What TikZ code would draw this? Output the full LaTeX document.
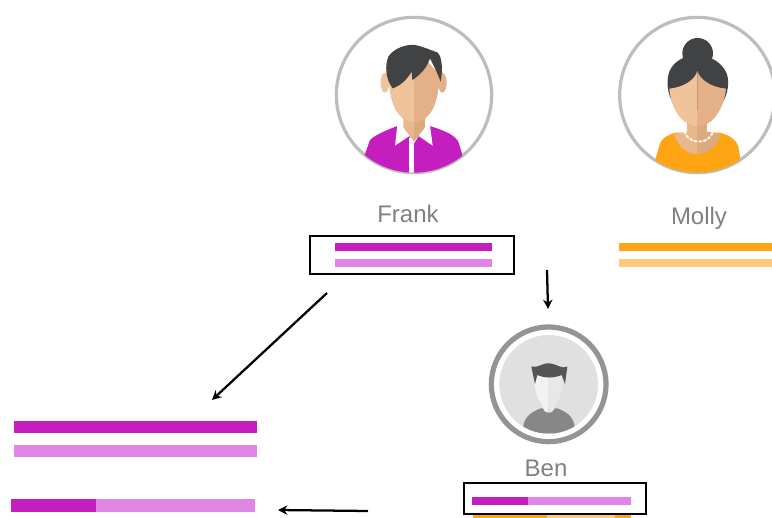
\documentclass[tikz,border=0pt]{standalone}
\usepackage{fontspec}
\setmainfont{Liberation Sans}
\usetikzlibrary{arrows.meta}
\definecolor{purp}{HTML}{C41FBE}
\definecolor{lpurp}{HTML}{E085E6}
\definecolor{orng}{HTML}{FFA514}
\definecolor{lorng}{HTML}{FFCB7A}
\definecolor{ring}{HTML}{BDBDBD}
\definecolor{hair}{HTML}{404244}
\definecolor{skinL}{HTML}{F0C39B}
\definecolor{skinR}{HTML}{E3B088}
\definecolor{neckL}{HTML}{E8B78E}
\definecolor{neckR}{HTML}{DDAA80}
\tikzset{
  namelabel/.style={text=black!50,font=\fontsize{18}{21}\selectfont,inner sep=0pt},
  framebox/.style={draw=black,line width=1.5pt,fill=none,inner sep=0pt,anchor=north west},
  flowarrow/.style={draw=black,line width=1.7pt,-{Stealth[length=7pt,width=7pt]}},
  zoomed/.style={x=0.25pt,y=-0.25pt}
}
\begin{document}
\begin{tikzpicture}[x=0.75pt,y=-0.75pt]
\useasboundingbox (0,0) rectangle (772,518);
\clip (0,0) rectangle (772,518);
\fill[white] (0,0) rectangle (772,518);

% Frank avatar
\begin{scope}[shift={(320,0)},zoomed]
  \draw[ring,line width=2.4pt] (282,285) circle (233);
  \begin{scope}
    \clip (282,285) circle (233);
    \fill[purp] (125,490) -- (150,420) .. controls (165,405) and (200,390) .. (232,378) -- (330,378) .. controls (365,390) and (400,400) .. (415,425) -- (435,490) -- (282,530) -- cycle;
    \fill[white] (268,415) rectangle (282,530);
  \end{scope}
  \fill[white] (232,376) -- (225,437) -- (268,408) -- (282,430) -- (296,408) -- (338,437) -- (330,376) -- cycle;
  \fill[skinL] (195,248) ellipse (13 and 30);
  \fill[skinR] (367,248) ellipse (13 and 30);
  \fill[neckL] (250,330) -- (282,330) -- (282,425) -- (250,382) -- cycle;
  \fill[neckR] (282,330) -- (315,330) -- (315,382) -- (282,425) -- cycle;
  \fill[skinL] (282,145) -- (282,367) .. controls (258,365) and (240,352) .. (226,328) .. controls (212,300) and (205,260) .. (207,220) -- cycle;
  \fill[skinR] (282,145) -- (282,367) .. controls (306,365) and (325,352) .. (338,328) .. controls (352,300) and (359,260) .. (357,220) -- cycle;
  \fill[hair] (218,265) .. controls (195,235) and (195,195) .. (205,170) .. controls (220,145) and (260,132) .. (285,135) .. controls (310,140) and (330,150) .. (352,157) .. controls (368,170) and (368,215) .. (362,245) .. controls (355,225) and (345,205) .. (330,175) .. controls (320,205) and (300,225) .. (277,240) -- (275,215) .. controls (260,240) and (240,258) .. (218,265) -- cycle;
\end{scope}

% Molly avatar
\begin{scope}[shift={(600,0)},zoomed]
  \draw[ring,line width=2.4pt] (292,285) circle (233);
  \begin{scope}
    \clip (292,285) circle (233);
    \fill[orng] (160,500) -- (180,430) .. controls (190,410) and (205,405) .. (225,398) -- (360,398) .. controls (395,408) and (408,420) .. (415,440) -- (425,500) -- (292,530) -- cycle;
  \end{scope}
  \fill[neckL] (222,402) .. controls (235,445) and (265,462) .. (292,462) -- (292,390) -- cycle;
  \fill[neckR] (362,402) .. controls (350,445) and (320,462) .. (292,462) -- (292,390) -- cycle;
  \fill[hair] (293,160) circle (46);
  \fill[hair] (235,332) .. controls (205,300) and (195,250) .. (208,215) .. controls (222,180) and (260,165) .. (293,165) .. controls (325,165) and (365,185) .. (380,220) .. controls (392,255) and (380,300) .. (350,332) -- cycle;
  \fill[neckL] (262,340) rectangle (292,405);
  \fill[neckR] (292,340) rectangle (322,405);
  \fill[skinL] (292,213) .. controls (285,240) and (250,262) .. (208,266) .. controls (210,300) and (225,340) .. (250,362) .. controls (265,375) and (280,378) .. (292,378) -- cycle;
  \fill[skinR] (292,213) .. controls (300,240) and (335,262) .. (378,266) .. controls (375,300) and (360,340) .. (335,362) .. controls (320,375) and (305,378) .. (292,378) -- cycle;
  \draw[white!92!orange,line width=1.6pt,dotted,line cap=round] (253,395) .. controls (262,430) and (325,440) .. (338,395);
\end{scope}

% Ben avatar
\begin{scope}[shift={(450,310)},zoomed]
  \draw[black!42,line width=3.9pt] (296,223) circle (172);
  \fill[black!12] (296,223) circle (148);
  \begin{scope}
    \clip (296,223) circle (148);
    \fill[black!47] (218,370) .. controls (218,325) and (235,310) .. (272,295) -- (322,295) .. controls (360,310) and (375,325) .. (376,370) -- cycle;
  \end{scope}
  \fill[black!5] (296,180) -- (296,308) .. controls (285,308) and (278,300) .. (278,285) .. controls (262,270) and (252,240) .. (252,190) -- cycle;
  \fill[black!9] (296,180) -- (296,308) .. controls (307,308) and (315,300) .. (315,285) .. controls (330,270) and (340,240) .. (340,190) -- cycle;
  \fill[black!67] (244,170) .. controls (265,175) and (275,158) .. (300,160) .. controls (320,162) and (335,178) .. (352,170) -- (345,222) -- (335,195) .. controls (310,205) and (285,205) .. (262,195) -- (255,222) -- cycle;
\end{scope}

% Labels
\node[namelabel] (frank) at (408,214) {Frank};
\node[namelabel] (molly) at (699,218) {Molly};
\node[namelabel] (ben) at (546,468) {Ben};

% Frank bars
\fill[purp] (335,242.7) rectangle (492.3,251);
\fill[lpurp] (335,258.7) rectangle (492.3,267);
\node[framebox,minimum width=152.6pt,minimum height=28.8pt] (frankbox) at (309.3,235) {};

% Molly bars
\fill[orng] (619.3,242.7) rectangle (772,251);
\fill[lorng] (619.3,258.7) rectangle (772,267);

% Ben bars
\fill[orng] (473.3,514) rectangle (546.7,518);
\fill[lorng] (546.7,514) rectangle (615,518);
\fill[orng] (615,514) rectangle (631,518);
\fill[lpurp] (471.7,497) rectangle (630.7,505);
\fill[purp] (471.7,497) rectangle (527.7,505);
\node[framebox,minimum width=136pt,minimum height=23pt] (benbox) at (463.3,482) {};

% Big bars
\fill[purp] (13.7,420.7) rectangle (257,432.7);
\fill[lpurp] (13.7,445.3) rectangle (257,457.3);
\fill[lpurp] (10.7,499.3) rectangle (254.7,511.7);
\fill[purp] (10.7,499.3) rectangle (96.3,511.7);

% Arrows
\coordinate (a1s) at (327,293);
\coordinate (a1e) at (212,400);
\coordinate (a2s) at (547,270);
\coordinate (a2e) at (548,309);
\coordinate (a3s) at (368,511);
\coordinate (a3e) at (278,510);
\draw[flowarrow] (a1s) -- (a1e);
\draw[flowarrow] (a2s) -- (a2e);
\draw[flowarrow] (a3s) -- (a3e);
\end{tikzpicture}
\end{document}
